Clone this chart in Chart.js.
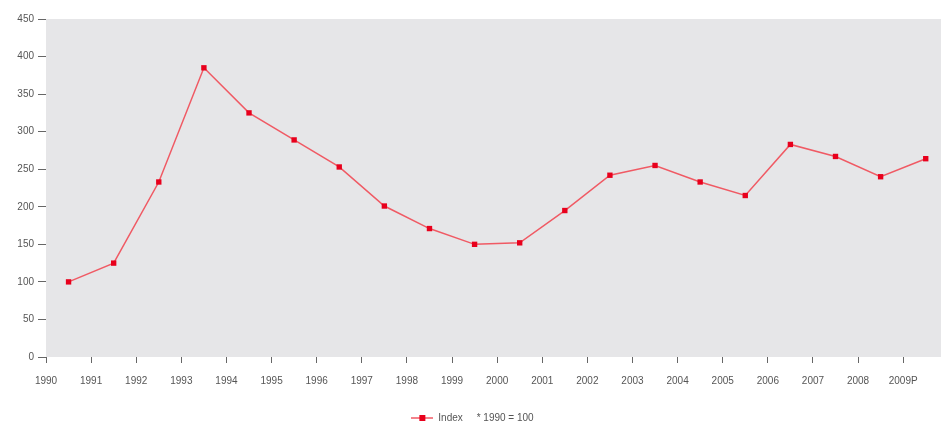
<!DOCTYPE html>
<html>
<head>
<meta charset="utf-8">
<script src="https://cdn.jsdelivr.net/npm/chart.js@4"></script>
<style>
  html, body { margin: 0; padding: 0; background: #fff; }
  #wrap { width: 941px; height: 423px; }
</style>
</head>
<body>
<div id="wrap"><canvas id="indexChart"></canvas></div>
<script>
// Index values, 1990 = 100
const years = ['1990', '1991', '1992', '1993', '1994', '1995', '1996', '1997', '1998', '1999',
    '2000', '2001', '2002', '2003', '2004', '2005', '2006', '2007', '2008', '2009P'];
const indexValues = [100, 125, 233, 385, 325, 289, 253, 201, 171, 150,
    152, 195, 242, 255, 233, 215, 283, 267, 240, 264];
const yTicks = [0, 50, 100, 150, 200, 250, 300, 350, 400, 450];

// legend swatch: line with a square marker
const swatch = document.createElement('canvas');
swatch.width = 22;
swatch.height = 8;
(function () {
    const c = swatch.getContext('2d');
    c.strokeStyle = '#f05a64';
    c.lineWidth = 1.5;
    c.beginPath();
    c.moveTo(0, 4);
    c.lineTo(22, 4);
    c.stroke();
    c.fillStyle = '#e8001c';
    c.fillRect(8, 1, 6, 6);
})();

// grey plot area, running out to the right edge of the canvas
const plotBackground = {
    id: 'plotBackground',
    beforeDraw(chart) {
        const { ctx, chartArea } = chart;
        ctx.save();
        ctx.fillStyle = '#e6e6e8';
        ctx.fillRect(chartArea.left, chartArea.top, chart.width - chartArea.left, chartArea.bottom - chartArea.top);
        ctx.restore();
    }
};

const tickFont = { family: '"Liberation Sans", Arial, sans-serif', size: 10 };

new Chart(document.getElementById('indexChart'), {
    type: 'line',
    data: {
        datasets: [{
            label: 'Index     * 1990 = 100',
            data: indexValues.map((v, i) => ({ x: i + 0.5, y: v })),
            borderColor: '#f05a64',
            borderWidth: 1.5,
            backgroundColor: '#e8001c',
            pointBackgroundColor: '#e8001c',
            pointBorderWidth: 0,
            pointStyle: 'rect',
            pointRadius: 3.8,
            tension: 0
        }]
    },
    options: {
        responsive: true,
        maintainAspectRatio: false,
        animation: false,
        layout: {
            padding: { top: 19, right: -4, left: 0, bottom: -10 }
        },
        plugins: {
            legend: {
                position: 'bottom',
                labels: {
                    usePointStyle: true,
                    pointStyle: swatch,
                    pointStyleWidth: 22,
                    boxHeight: 8,
                    color: '#555',
                    font: tickFont,
                    padding: 4
                }
            },
            tooltip: { enabled: false }
        },
        scales: {
            x: {
                type: 'linear',
                min: 0,
                max: 19.75,
                border: { display: false },
                grid: {
                    drawOnChartArea: false,
                    tickLength: 6,
                    color: '#666'
                },
                afterBuildTicks: function (scale) {
                    scale.ticks = years.map((y, i) => ({ value: i }));
                },
                afterFit: function (scale) {
                    scale.height += 10;
                },
                ticks: {
                    color: '#555',
                    font: tickFont,
                    padding: 12,
                    maxRotation: 0,
                    autoSkip: false,
                    callback: function (value) {
                        return years[value];
                    }
                }
            },
            y: {
                min: 0,
                max: 450,
                border: { display: false },
                grid: {
                    drawOnChartArea: false,
                    tickLength: 8,
                    color: '#666'
                },
                afterBuildTicks: function (scale) {
                    scale.ticks = yTicks.map(v => ({ value: v }));
                },
                afterFit: function (scale) {
                    scale.width = 46;
                },
                ticks: {
                    color: '#555',
                    font: tickFont,
                    padding: 4
                }
            }
        }
    },
    plugins: [plotBackground]
});
</script>
</body>
</html>
